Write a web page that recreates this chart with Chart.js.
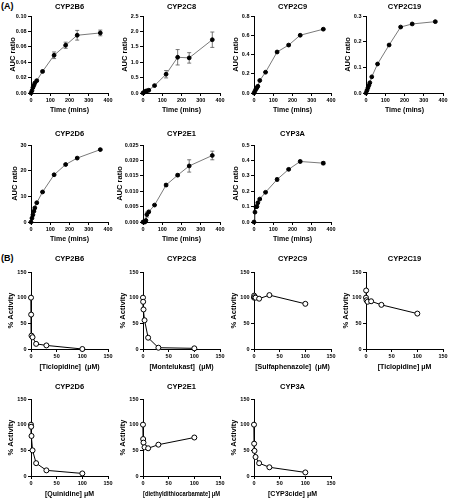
<!DOCTYPE html>
<html>
<head>
<meta charset="utf-8">
<script src="https://cdn.jsdelivr.net/npm/chart.js@4"></script>
<style>
body { margin: 0; background: #fff; width: 449px; height: 500px; position: relative; overflow: hidden; font-family: "Liberation Sans", Arial, sans-serif; }
canvas { position: absolute; }
.lab { position: absolute; font-weight: bold; font-size: 9px; line-height: 10px; }
</style>
</head>
<body>
<div class="lab" style="left:1px;top:1px">(A)</div>
<div class="lab" style="left:1px;top:253px">(B)</div>
<script>
// (A) time course, AUC ratio
var times = [0, 5, 10, 15, 20, 30, 60, 120, 180, 240, 360];
var auc2B6 = [0, 0.003, 0.007, 0.010, 0.013, 0.016, 0.028, 0.049, 0.062, 0.075, 0.078];
var err2B6 = [0, 0, 0, 0, 0, 0.001, 0.0015, 0.0043, 0.004, 0.0063, 0.0037];
var auc2C8 = [0, 0.02, 0.04, 0.06, 0.07, 0.09, 0.24, 0.61, 1.16, 1.14, 1.73];
var err2C8 = [0, 0, 0, 0, 0, 0.01, 0.02, 0.12, 0.25, 0.17, 0.25];
var auc2C9 = [0, 0.02, 0.04, 0.055, 0.07, 0.13, 0.216, 0.426, 0.498, 0.60, 0.663];
var err2C9 = [0, 0, 0, 0, 0, 0, 0.005, 0.008, 0.01, 0.008, 0.008];
var auc2C19 = [0, 0.01, 0.02, 0.03, 0.04, 0.063, 0.113, 0.187, 0.257, 0.269, 0.278];
var err2C19 = [0, 0, 0, 0, 0, 0, 0, 0.002, 0.003, 0.003, 0.003];
var auc2D6 = [0, 1.5, 2.8, 4.2, 5.5, 7.5, 11.7, 18.4, 22.4, 24.9, 28.2];
var err2D6 = [0, 0, 0, 0, 0, 0.2, 0.3, 0.3, 0.3, 0.3, 0.3];
var auc2E1 = [0, 0, 0, 0.0005, 0.0024, 0.0033, 0.0055, 0.012, 0.0152, 0.0182, 0.0216];
var err2E1 = [0, 0, 0, 0, 0.0008, 0.0003, 0.0002, 0.0005, 0.0004, 0.002, 0.0014];
var auc3A = [0, 0.064, 0.099, 0.10, 0.125, 0.149, 0.193, 0.276, 0.342, 0.393, 0.382];
var err3A = [0, 0, 0, 0, 0, 0.004, 0.005, 0.01, 0.006, 0.008, 0.01];

// (B) inhibition, % activity
var conc = [0, 0.3, 1, 3, 10, 30, 100];
var act2B6 = [100, 67, 26, 23, 10, 7, 0];
var act2C8 = [100, 92, 77, 56, 22, 2.5, 1.3];
var act2C9 = [100, 104, 101, 100, 98, 105, 88];
var act2C19 = [100, 114, 95, 92, 93, 86, 69];
var act2D6 = [100, 96, 78, 50, 25, 11, 5];
var act2E1 = [100, 72, 65, 56, 54, 61, 75];
var act3A = [100, 63, 49, 37, 25, 17, 7];

var colX = [31, 143, 254, 366];
var rowTop = [16, 145, 272, 399];
var titleGap = [9, 11, 13, 12];

Chart.defaults.font.family = '"Liberation Sans", Arial, sans-serif';
Chart.defaults.font.weight = 'bold';
Chart.defaults.color = '#000';

var panels = [
  { kind: 'A', title: 'CYP2B6', y: auc2B6, err: err2B6, max: 0.10, step: 0.02, dec: 2, col: 0, row: 0 },
  { kind: 'A', title: 'CYP2C8', y: auc2C8, err: err2C8, max: 2.5, step: 0.5, dec: 1, col: 1, row: 0 },
  { kind: 'A', title: 'CYP2C9', y: auc2C9, err: err2C9, max: 0.8, step: 0.2, dec: 1, col: 2, row: 0 },
  { kind: 'A', title: 'CYP2C19', y: auc2C19, err: err2C19, max: 0.3, step: 0.1, dec: 1, col: 3, row: 0 },
  { kind: 'A', title: 'CYP2D6', y: auc2D6, err: err2D6, max: 30, step: 10, dec: 0, col: 0, row: 1, yt: 16 },
  { kind: 'A', title: 'CYP2E1', y: auc2E1, err: err2E1, max: 0.025, step: 0.005, dec: 3, col: 1, row: 1, yt: 23 },
  { kind: 'A', title: 'CYP3A', y: auc3A, err: err3A, max: 0.5, step: 0.1, dec: 1, col: 2, row: 1 },
  { kind: 'B', title: 'CYP2B6', y: act2B6, xt: '[Ticlopidine]  (\u03bcM)', col: 0, row: 2 },
  { kind: 'B', title: 'CYP2C8', y: act2C8, xt: '[Montelukast]  (\u03bcM)', col: 1, row: 2 },
  { kind: 'B', title: 'CYP2C9', y: act2C9, xt: '[Sulfaphenazole]  (\u03bcM)', col: 2, row: 2 },
  { kind: 'B', title: 'CYP2C19', y: act2C19, xt: '[Ticlopidine] \u03bcM', col: 3, row: 2 },
  { kind: 'B', title: 'CYP2D6', y: act2D6, xt: '[Quinidine] \u03bcM', col: 0, row: 3 },
  { kind: 'B', title: 'CYP2E1', y: act2E1, xt: '[diethyldithiocarbamate] \u03bcM', col: 1, row: 3 },
  { kind: 'B', title: 'CYP3A', y: act3A, xt: '[CYP3cide] \u03bcM', col: 2, row: 3 }
];

function axisGrid() {
  return { display: true, drawOnChartArea: false, drawTicks: true, tickLength: 3, color: '#000', lineWidth: 1 };
}

function makePanel(p) {
  var isA = p.kind === 'A';
  var xs = isA ? times : conc;
  var cv = document.createElement('canvas');
  cv.width = 119;
  cv.height = 119;
  cv.style.left = (colX[p.col] - 32) + 'px';
  cv.style.top = (rowTop[p.row] - 16) + 'px';
  document.body.appendChild(cv);

  // distance of the y title centre from the axis line
  var ytGap = p.yt || (isA ? 18 : 20);

  // title over the plot area
  var titlePlugin = {
    id: 'panelTitle',
    afterDraw: function (chart) {
      var ctx = chart.ctx, ca = chart.chartArea;
      ctx.save();
      ctx.font = 'bold 7.5px "Liberation Sans", Arial, sans-serif';
      ctx.fillStyle = '#000';
      ctx.textAlign = 'center';
      ctx.textBaseline = 'middle';
      ctx.fillText(p.title, (ca.left + ca.right) / 2, ca.top - titleGap[p.row]);
      ctx.restore();
    }
  };
  // error bars
  var errPlugin = {
    id: 'errBars',
    beforeDatasetsDraw: function (chart) {
      if (!p.err) return;
      var ctx = chart.ctx, sx = chart.scales.x, sy = chart.scales.y;
      ctx.save();
      ctx.strokeStyle = '#555';
      ctx.lineWidth = 0.8;
      for (var i = 0; i < xs.length; i++) {
        var e = p.err[i];
        if (!e) continue;
        var px = sx.getPixelForValue(xs[i]);
        var y1 = sy.getPixelForValue(p.y[i] + e), y2 = sy.getPixelForValue(p.y[i] - e);
        ctx.beginPath();
        ctx.moveTo(px, y1); ctx.lineTo(px, y2);
        ctx.moveTo(px - 2, y1); ctx.lineTo(px + 2, y1);
        ctx.moveTo(px - 2, y2); ctx.lineTo(px + 2, y2);
        ctx.stroke();
      }
      ctx.restore();
    }
  };

  new Chart(cv, {
    type: 'scatter',
    data: {
      datasets: [{
        data: xs.map(function (x, i) { return { x: x, y: p.y[i] }; }),
        showLine: true,
        clip: false,
        borderColor: isA ? '#7a7a7a' : '#000',
        borderWidth: 1,
        pointRadius: isA ? 1.9 : 2.5,
        pointBorderWidth: 1,
        pointBackgroundColor: isA ? '#000' : '#fff',
        pointBorderColor: '#000'
      }]
    },
    options: {
      responsive: false,
      animation: false,
      events: [],
      layout: { padding: { left: 0, right: 10, top: 16, bottom: 0 } },
      plugins: { legend: { display: false }, tooltip: { enabled: false } },
      scales: {
        x: {
          type: 'linear',
          min: 0,
          max: isA ? 400 : 150,
          afterFit: function (s) { s.height = 26; },
          grid: axisGrid(),
          border: { color: '#000', width: 1 },
          ticks: { stepSize: isA ? 100 : 50, padding: 1, maxRotation: 0, font: { size: 5.5, weight: 'bold' } },
          title: {
            display: true,
            text: isA ? 'Time (mins)' : p.xt,
            font: { size: 7, weight: 'bold' },
            padding: { top: 0, bottom: isA ? 4.8 : 3.8 }
          }
        },
        y: {
          type: 'linear',
          min: 0,
          max: isA ? p.max : 150,
          afterFit: function (s) { s.width = 32; },
          grid: axisGrid(),
          border: { color: '#000', width: 1 },
          ticks: {
            stepSize: isA ? p.step : 50,
            padding: 1.5,
            font: { size: 5.5, weight: 'bold' },
            callback: function (v) { return isA ? v.toFixed(p.dec) : v.toFixed(0); }
          },
          title: {
            display: true,
            text: isA ? 'AUC ratio' : '% Activity',
            font: { size: 7.5, weight: 'bold' },
            // centre sits at canvas left + 4.5 + padding.top; axis line is at 32
            padding: { top: 32 - ytGap - 4.5, bottom: 0 }
          }
        }
      }
    },
    plugins: [titlePlugin, errPlugin]
  });
}

panels.forEach(makePanel);
</script>
</body>
</html>
